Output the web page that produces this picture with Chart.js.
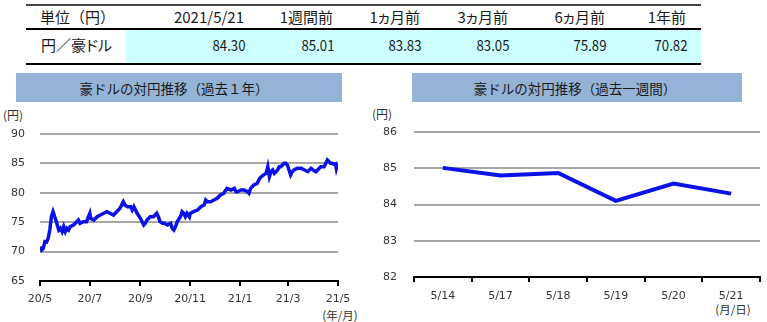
<!DOCTYPE html>
<html>
<head>
<meta charset="utf-8">
<script src="https://cdn.jsdelivr.net/npm/chart.js@4.4.1/dist/chart.umd.min.js"></script>
<style>
html,body{margin:0;padding:0;background:#fff;}
body{width:767px;height:322px;overflow:hidden;position:relative;font-family:"Noto Sans CJK JP",sans-serif;color:#1a1a1a;}
.abs{position:absolute;white-space:nowrap;}
.jp{font-family:"Noto Sans CJK JP",sans-serif;font-feature-settings:"palt";}
.jpw{font-family:"Noto Sans CJK JP",sans-serif;}
.band{position:absolute;background:#95b3d7;}
canvas{position:absolute;}
</style>
</head>
<body>
<div id="table"></div>
<div class="band" style="left:16px;top:73px;width:326px;height:29px;"></div>
<div class="band" style="left:412px;top:73px;width:330px;height:29px;"></div>
<div class="abs jpw" style="left:174px;top:78px;transform:translateX(-50%);font-size:13.5px;line-height:20px;">豪ドルの対円推移（過去１年）</div>
<div class="abs jpw" style="left:575px;top:78px;transform:translateX(-50%);font-size:13.5px;line-height:20px;">豪ドルの対円推移（過去一週間）</div>
<div class="abs jp" style="left:3px;top:107px;font-size:12px;line-height:16px;color:#333;">(円)</div>
<div class="abs jp" style="left:372px;top:106px;font-size:12px;line-height:16px;color:#333;">(円)</div>
<div class="abs jp" style="left:340px;top:307px;transform:translateX(-50%);font-size:11.5px;line-height:16px;color:#333;">(年/月)</div>
<div class="abs jp" style="left:733px;top:301px;transform:translateX(-50%);font-size:11.5px;line-height:16px;color:#333;">(月/日)</div>
<canvas id="left" width="380" height="217" style="left:0;top:105px;"></canvas>
<canvas id="right" width="397" height="217" style="left:370px;top:105px;"></canvas>
<script>
// ---- table data ----
const tableCorner = "単位（円）";
const tableHeaders = ["2021/5/21", "1週間前", "1ヵ月前", "3ヵ月前", "6ヵ月前", "1年前"];
const tableRowLabel = "円／豪ドル";
const tableValues = ["84.30", "85.01", "83.83", "83.05", "75.89", "70.82"];

// ---- 1-year chart data (days since 2020-05-21) ----
const yearTickDays = [0, 61, 123, 184, 245, 304, 365];
const yearTickLabels = ["20/5", "20/7", "20/9", "20/11", "21/1", "21/3", "21/5"];
const yearDays = [0,2,4,6,8,10,12,14,16,18,20,23,25,27,29,31,33,35,37,41,45,47,49,53,57,61,62,66,70,74,78,82,86,90,94,98,102,104,107,111,113,115,119,123,127,129,131,135,139,143,145,147,150,152,156,160,162,164,166,168,172,174,176,178,180,183,184,188,193,197,201,203,205,209,213,217,221,225,229,234,238,240,242,246,250,254,256,258,262,266,268,270,274,277,279,281,283,285,287,289,291,293,295,297,299,301,303,305,307,309,311,315,320,324,328,332,335,338,340,342,344,348,350,352,354,356,358,361,362,363,364,365];
const yearValues = [70.82,70.27,70.56,71.69,71.60,72.26,73.67,75.94,76.79,75.94,75.09,73.67,73.96,73.39,74.24,73.39,73.96,73.67,74.24,74.52,75.09,75.37,74.81,75.09,75.09,76.51,75.66,75.37,75.94,76.22,76.51,76.79,76.51,76.22,76.79,77.36,78.49,77.93,77.64,77.64,77.07,77.64,76.51,75.66,74.52,74.81,75.37,75.94,75.94,76.51,75.94,75.09,74.81,74.81,74.52,74.81,73.96,73.67,74.24,75.09,75.94,76.79,76.51,75.94,76.51,75.89,76.51,76.79,77.07,77.64,77.93,78.78,78.49,78.49,78.78,79.06,79.63,79.91,80.76,80.48,80.76,80.19,80.19,80.48,80.48,80.19,79.91,80.76,81.33,81.61,82.18,82.60,83.05,83.31,84.44,82.74,83.59,83.88,83.31,83.59,83.88,84.44,84.44,84.73,85.01,85.01,84.73,83.88,83.03,83.59,83.88,84.16,84.16,83.88,83.59,84.16,83.83,83.59,83.88,84.16,84.44,84.44,85.01,85.58,85.29,85.01,85.01,84.80,84.87,84.10,84.58,84.30];

// ---- 1-week chart data ----
const weekLabels = ["5/14", "5/17", "5/18", "5/19", "5/20", "5/21"];
const weekValues = [85.01, 84.80, 84.87, 84.10, 84.58, 84.30];

// ---- build table ----
(function(){
  const t = document.getElementById('table');
  const add = (html) => { t.insertAdjacentHTML('beforeend', html); };
  add('<div class="abs" style="left:126px;top:30px;width:575px;height:33px;background:#ccffff;"></div>');
  add('<div class="abs" style="left:26px;top:4px;width:675px;height:2px;background:#444;"></div>');
  add('<div class="abs" style="left:26px;top:28px;width:675px;height:2px;background:#000;"></div>');
  add('<div class="abs" style="left:26px;top:63px;width:675px;height:2px;background:#000;"></div>');
  const rights = [244, 333, 420, 508, 605, 686];
  add('<div class="abs jpw" style="left:40px;top:6px;font-size:15px;line-height:22px;">' + tableCorner + '</div>');
  add('<div class="abs jp" style="left:41px;top:34px;font-size:15px;line-height:22px;">' + tableRowLabel + '</div>');
  tableHeaders.forEach((h, i) => {
    add('<div class="abs jp" style="right:' + (767 - rights[i]) + 'px;top:6px;font-size:15px;line-height:22px;">' + h + '</div>');
  });
  tableValues.forEach((v, i) => {
    add('<div class="abs jp" style="right:' + (767 - rights[i] - 1) + 'px;top:34px;font-size:15px;line-height:22px;transform:scaleX(0.88);transform-origin:right center;">' + v + '</div>');
  });
})();

Chart.defaults.font.family = "'DejaVu Sans', sans-serif";
Chart.defaults.font.size = 11;
Chart.defaults.color = '#333';

const lineBlue = '#0a12e6';
const gridGray = '#a6a6a6';

new Chart(document.getElementById('left'), {
  type: 'line',
  data: {
    datasets: [{
      data: yearDays.map((d, i) => ({ x: d, y: yearValues[i] })),
      borderColor: lineBlue, borderWidth: 3.5, pointRadius: 0, tension: 0, fill: false
    }]
  },
  options: {
    responsive: false, animation: false, events: [],
    layout: { padding: { top: 29, right: 42, left: 0, bottom: 0 } },
    plugins: { legend: { display: false }, tooltip: { enabled: false } },
    scales: {
      x: {
        type: 'linear', min: yearTickDays[0], max: yearTickDays[yearTickDays.length - 1],
        afterBuildTicks: s => { s.ticks = yearTickDays.map(v => ({ value: v })); },
        afterFit: s => { s.height = 41; },
        ticks: { callback: (v, i) => yearTickLabels[i], autoSkip: false, maxRotation: 0, padding: 7 },
        grid: { drawOnChartArea: false, drawTicks: true, tickLength: 5, color: '#000', lineWidth: 2 },
        border: { display: true, color: '#000', width: 2 }
      },
      y: {
        min: 65, max: 90,
        afterFit: s => { s.width = 40; },
        ticks: { stepSize: 5, padding: 15 },
        grid: { drawTicks: false, color: gridGray, lineWidth: 2 },
        border: { display: false }
      }
    }
  }
});

new Chart(document.getElementById('right'), {
  type: 'line',
  data: {
    labels: weekLabels,
    datasets: [{
      data: weekValues,
      borderColor: lineBlue, borderWidth: 4, pointRadius: 0, tension: 0, fill: false
    }]
  },
  options: {
    responsive: false, animation: false, events: [],
    layout: { padding: { top: 27, right: 7, left: 0, bottom: 0 } },
    plugins: { legend: { display: false }, tooltip: { enabled: false } },
    scales: {
      x: {
        type: 'category', offset: true,
        afterFit: s => { s.height = 45; },
        ticks: { autoSkip: false, maxRotation: 0, padding: 8 },
        grid: { offset: true, drawOnChartArea: false, drawTicks: true, tickLength: 5, color: '#000', lineWidth: 2 },
        border: { display: true, color: '#000', width: 2 }
      },
      y: {
        min: 82, max: 86,
        afterFit: s => { s.width = 44; },
        ticks: { stepSize: 1, padding: 17 },
        grid: { drawTicks: false, color: gridGray, lineWidth: 2 },
        border: { display: false }
      }
    }
  }
});
</script>
</body>
</html>
